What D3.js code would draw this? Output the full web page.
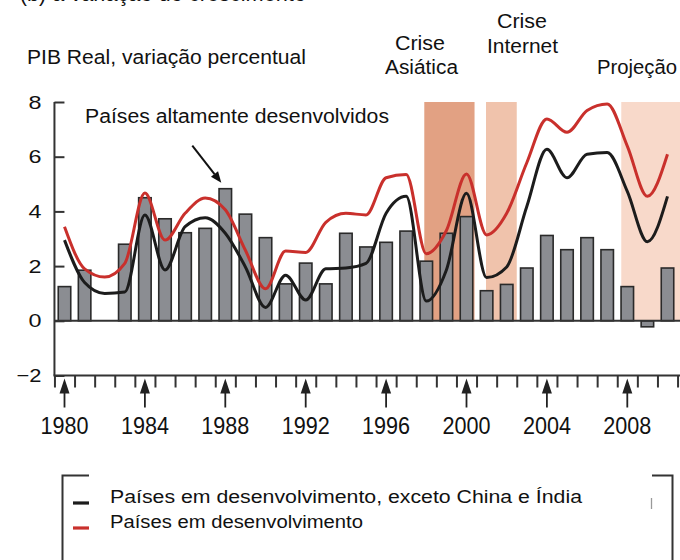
<!DOCTYPE html>
<html><head><meta charset="utf-8">
<script src="https://cdn.jsdelivr.net/npm/d3@7"></script>
<style>
body{margin:0;background:#fff}
svg{display:block}
text{font-family:"Liberation Sans",Arial,Helvetica,sans-serif;fill:#111}
</style></head>
<body><svg id="chart" width="680" height="560"></svg>
<script>
// ---------- data ----------
const years = [1980,1981,1982,1983,1984,1985,1986,1987,1988,1989,1990,1991,1992,1993,1994,1995,1996,1997,1998,1999,2000,2001,2002,2003,2004,2005,2006,2007,2008,2009,2010];
// Países altamente desenvolvidos (barras)
const advanced = [1.25,1.85,0,2.8,4.5,3.73,3.22,3.38,4.83,3.9,3.04,1.35,2.11,1.35,3.2,2.7,2.87,3.28,2.18,3.2,3.81,1.1,1.33,1.93,3.12,2.6,3.04,2.6,1.25,-0.22,1.93];
// Países em desenvolvimento (linha vermelha)
const developing = [3.44,1.9,1.6,2.1,4.67,2.95,3.93,4.49,4.06,2.58,1.17,2.55,2.5,3.6,3.93,3.87,5.23,5.35,2.45,3.3,5.37,3.14,3.93,5.78,7.38,6.89,7.69,7.93,6.39,4.55,6.09];
// Países em desenvolvimento, exceto China e Índia (linha preta)
const developingExCI = [2.95,1.4,1.0,1.05,3.87,1.86,3.44,3.77,3.2,1.97,0.49,1.67,0.76,1.9,1.93,2.1,3.93,4.55,0.72,1.86,4.66,1.58,1.97,4.18,6.27,5.23,6.09,6.15,4.73,2.89,4.55];
const yTickValues = [8,6,4,2,0,-2];
const xLabelYears = [1980,1984,1988,1992,1996,2000,2004,2008];
const bandNames = ["Asiática","Internet","Projeção"];
const bandFrom = [1997.9, 2000.97, 2007.7];
const bandTo = [2000.4, 2002.5, 2010.7];
const legendLabels = ["Países em desenvolvimento, exceto China e Índia","Países em desenvolvimento"];

// ---------- scales ----------
const svg = d3.select("#chart");
const x = d3.scaleLinear().domain([1980, 2010]).range([64.5, 667.5]);
const y = d3.scaleLinear().domain([-2, 8]).range([375.5, 102]);
const bandColors = ["#e2a183", "#f0c3ac", "#f8d9ca"];
const RED = "#c9302c", BLACK = "#1c1c1c";

function txt(g, s, tx, ty, size, len, anchor){
  const t = g.append("text").attr("x", tx).attr("y", ty)
    .attr("font-size", size).attr("text-anchor", anchor || "start").text(s);
  if (len) t.attr("textLength", len).attr("lengthAdjust", "spacingAndGlyphs");
  return t;
}

// cut-off heading at the very top (only its lowest pixels are inside the picture)
txt(svg, "• (b) a variação do crescimento", 6, 0.5, 24, 300).attr("fill", "#222");

// ---------- bands ----------
svg.append("g").selectAll("rect").data(bandNames).join("rect")
  .attr("x", (d,i) => x(bandFrom[i]))
  .attr("width", (d,i) => Math.min(x(bandTo[i]), 680) - x(bandFrom[i]))
  .attr("y", y(8)).attr("height", y(0) - y(8))
  .attr("fill", (d,i) => bandColors[i]);

// ---------- bars ----------
const bw = 12.5;
svg.append("g").selectAll("rect")
  .data(years.map((yr,i) => ({yr, v: advanced[i]})).filter(d => d.v !== 0))
  .join("rect")
  .attr("x", d => x(d.yr) - bw/2)
  .attr("width", bw)
  .attr("y", d => y(Math.max(0, d.v)))
  .attr("height", d => Math.abs(y(d.v) - y(0)))
  .attr("fill", "#8b8d92").attr("stroke", "#2a2a2a").attr("stroke-width", 1.6);

// ---------- lines ----------
const line = d3.line().x(d => x(d[0])).y(d => y(d[1])).curve(d3.curveMonotoneX);
svg.append("path").datum(years.map((yr,i) => [yr, developingExCI[i]]))
  .attr("d", line).attr("fill", "none").attr("stroke", BLACK).attr("stroke-width", 3)
  .attr("stroke-linejoin", "round");
svg.append("path").datum(years.map((yr,i) => [yr, developing[i]]))
  .attr("d", line).attr("fill", "none").attr("stroke", RED).attr("stroke-width", 3)
  .attr("stroke-linejoin", "round");

// ---------- axes ----------
const axisX0 = x(1979.5), axisX1 = 680;
// zero line
svg.append("line").attr("x1", axisX0).attr("x2", axisX1)
  .attr("y1", y(0)).attr("y2", y(0)).attr("stroke", "#333").attr("stroke-width", 2);

// y axis
const yAxis = svg.append("g").attr("transform", `translate(${axisX0},0)`)
  .call(d3.axisLeft(y).tickValues(yTickValues).tickSize(-10).tickSizeOuter(0).tickPadding(13));
yAxis.select(".domain").remove();
yAxis.selectAll(".tick line").attr("stroke", "#333").attr("stroke-width", 2);
yAxis.selectAll(".tick text").attr("font-size", 19).attr("fill", "#222")
  .attr("font-family", '"Liberation Sans",Arial,sans-serif')
  .attr("textLength", d => d < 0 ? 25 : 13).attr("lengthAdjust", "spacingAndGlyphs");
svg.append("line").attr("x1", axisX0).attr("x2", axisX0)
  .attr("y1", y(8)).attr("y2", y(-2)).attr("stroke", "#333").attr("stroke-width", 2);

// x axis (ticks between years)
const xTickVals = years.map(yr => yr - 0.5).concat([2010.5]);
const xAxis = svg.append("g").attr("transform", `translate(0,${y(-2)})`)
  .call(d3.axisBottom(x).tickValues(xTickVals).tickSize(12).tickSizeOuter(0).tickFormat(""));
xAxis.select(".domain").remove();
xAxis.selectAll(".tick line").attr("stroke", "#333").attr("stroke-width", 2);
svg.append("line").attr("x1", axisX0 - 1).attr("x2", axisX1)
  .attr("y1", y(-2)).attr("y2", y(-2)).attr("stroke", "#333").attr("stroke-width", 2);

// x labels + arrows
const base = y(-2);
const lab = svg.append("g");
xLabelYears.forEach(yr => {
  const cx = x(yr);
  lab.append("line").attr("x1", cx).attr("x2", cx).attr("y1", base + 10).attr("y2", base + 32)
    .attr("stroke", "#222").attr("stroke-width", 1.8);
  lab.append("path").attr("d", d3.line()([[cx, base + 3], [cx - 5, base + 18], [cx + 5, base + 18]]) + "Z")
    .attr("fill", "#222");
  txt(lab, String(yr), cx, 433.5, 24, 48, "middle")
    .attr("font-family", '"Liberation Sans Narrow","Arial Narrow","Liberation Sans",sans-serif')
    .attr("fill", "#3a3a3a");
});

// ---------- annotations ----------
const ann = svg.append("g");
txt(ann, "PIB Real, variação percentual", 27, 64, 20.5, 279);
txt(ann, "Crise", 420, 50, 20, 50, "middle");
txt(ann, "Asiática", 421.5, 74, 20, 73, "middle");
txt(ann, "Crise", 522, 28, 20, 50, "middle");
txt(ann, "Internet", 522.5, 53, 20, 71, "middle");
txt(ann, "Projeção", 597, 74, 20, 80);
txt(ann, "Países altamente desenvolvidos", 85, 123, 19.5, 304);
// arrow pointing to 1988 bar
const tip = [x(1988) - 4, y(advanced[8]) - 6];
const tail = [tip[0] - 29, tip[1] - 37];
const ang = Math.atan2(tip[1] - tail[1], tip[0] - tail[0]);
const hl = 11, hw = 4.5;
const bx = tip[0] - hl * Math.cos(ang), by = tip[1] - hl * Math.sin(ang);
ann.append("line").attr("x1", tail[0]).attr("y1", tail[1]).attr("x2", bx).attr("y2", by)
  .attr("stroke", "#111").attr("stroke-width", 2);
ann.append("path").attr("d", d3.line()([tip,
  [bx + hw * Math.sin(ang), by - hw * Math.cos(ang)],
  [bx - hw * Math.sin(ang), by + hw * Math.cos(ang)]]) + "Z").attr("fill", "#111");

// ---------- legend ----------
const leg = svg.append("g");
leg.append("path").attr("d", "M89,475.5 H62.5 V562").attr("fill", "none").attr("stroke", "#333").attr("stroke-width", 2);
leg.append("path").attr("d", "M652,475.5 H672.5 V562").attr("fill", "none").attr("stroke", "#333").attr("stroke-width", 2);
leg.append("line").attr("x1", 651.5).attr("x2", 651.5).attr("y1", 498).attr("y2", 509)
  .attr("stroke", "#999").attr("stroke-width", 1.3);
const legColors = [BLACK, RED];
const legY = [503, 528];
const legLen = [472, 253];
legendLabels.forEach((s, i) => {
  leg.append("line").attr("x1", 73).attr("x2", 89).attr("y1", legY[i]).attr("y2", legY[i])
    .attr("stroke", legColors[i]).attr("stroke-width", 3.2);
  txt(leg, s, 110, legY[i], 17.5, legLen[i]);
});
</script></body></html>
